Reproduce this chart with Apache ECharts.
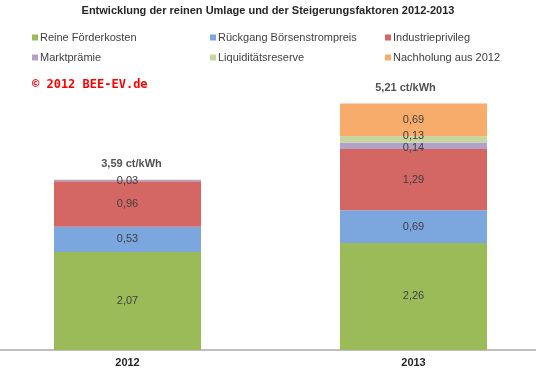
<!DOCTYPE html>
<html>
<head>
<meta charset="utf-8">
<script src="https://cdn.jsdelivr.net/npm/echarts@6/dist/echarts.min.js"></script>
<style>
html,body{margin:0;padding:0;background:#fff;}
#chart{width:536px;height:372px;}
</style>
</head>
<body>
<div id="chart"></div>
<script>
const categories = ['2012', '2013'];
const reineFoerderkosten = [2.07, 2.26];
const rueckgangBoersenstrompreis = [0.53, 0.69];
const industrieprivileg = [0.96, 1.29];
const marktpraemie = [0.03, 0.14];
const liquiditaetsreserve = [null, 0.13];
const nachholung2012 = [null, 0.69];
const totals = [3.59, 5.21];

const seriesNames = ['Reine Förderkosten', 'Rückgang Börsenstrompreis', 'Industrieprivileg', 'Marktprämie', 'Liquiditätsreserve', 'Nachholung aus 2012'];
const seriesData = [reineFoerderkosten, rueckgangBoersenstrompreis, industrieprivileg, marktpraemie, liquiditaetsreserve, nachholung2012];
const colors = ['#9BBB59', '#7BA6DE', '#D46664', '#B3A2C8', '#C5D79E', '#F8AC6C'];
// small label nudges (series index -> per-category [dx, dy]) to mimic the original overlapping labels
const labelNudges = {3: [[0, 0], [0, 2]], 4: [[0, 0], [0, -3]]};
const totalNudges = [[4, 0], [-8, 0]];

const fmt = v => v.toFixed(2).replace('.', ',');
const font = 'Liberation Sans, Arial, sans-serif';

const chart = echarts.init(document.getElementById('chart'), null, {renderer: 'canvas'});

const barSeries = seriesNames.map((name, i) => ({
  name: name,
  type: 'bar',
  stack: 'total',
  barWidth: 147,
  data: seriesData[i].map((v, j) => labelNudges[i] ? {value: v, label: {offset: labelNudges[i][j]}} : v),
  itemStyle: {color: colors[i]},
  label: {
    show: true,
    position: 'inside',
    formatter: p => (p.value == null ? '' : fmt(p.value)),
    color: '#404040',
    fontFamily: font,
    fontSize: 11
  },
  emphasis: {disabled: true}
}));

barSeries.push({
  name: 'Summe',
  type: 'scatter',
  data: totals.map((v, j) => ({value: v, label: {offset: totalNudges[j]}})),
  symbolSize: 0,
  label: {
    show: true,
    position: 'top',
    distance: 10,
    formatter: p => fmt(p.value) + ' ct/kWh',
    color: '#262626',
    fontFamily: font,
    fontSize: 11,
    fontWeight: 'bold'
  }
});

const legendCommon = {
  orient: 'vertical',
  top: 27,
  itemWidth: 6,
  itemHeight: 6,
  itemGap: 9,
  icon: 'rect',
  textStyle: {color: '#404040', fontFamily: font, fontSize: 11, padding: [0, 0, 0, -3]},
  selectedMode: false
};

chart.setOption({
  animation: false,
  backgroundColor: '#fff',
  title: {
    text: 'Entwicklung der reinen Umlage und der Steigerungsfaktoren 2012-2013',
    left: 'center',
    top: 0,
    textStyle: {fontFamily: font, fontSize: 11, fontWeight: 'bold', color: '#262626'}
  },
  color: colors,
  legend: [
    Object.assign({}, legendCommon, {left: 27, data: [seriesNames[0], seriesNames[3]]}),
    Object.assign({}, legendCommon, {left: 205, data: [seriesNames[1], seriesNames[4]]}),
    Object.assign({}, legendCommon, {left: 380, data: [seriesNames[2], seriesNames[5]]})
  ],
  graphic: [{
    type: 'text',
    left: 32,
    top: 79,
    style: {
      text: '© 2012 BEE-EV.de',
      fill: '#FF0000',
      font: 'bold 12px "DejaVu Sans Mono", monospace'
    }
  }],
  grid: {left: -15.5, right: -20.5, top: 65.6, bottom: 22, containLabel: false, outerBoundsMode: 'none'},
  xAxis: {
    type: 'category',
    data: categories,
    axisLine: {lineStyle: {color: '#BFBFBF', width: 2}},
    axisTick: {show: false},
    axisLabel: {color: '#262626', fontFamily: font, fontSize: 11, fontWeight: 'bold', margin: 7}
  },
  yAxis: {
    type: 'value',
    min: 0,
    max: 6,
    show: false,
    splitLine: {show: false}
  },
  series: barSeries
});
</script>
</body>
</html>
